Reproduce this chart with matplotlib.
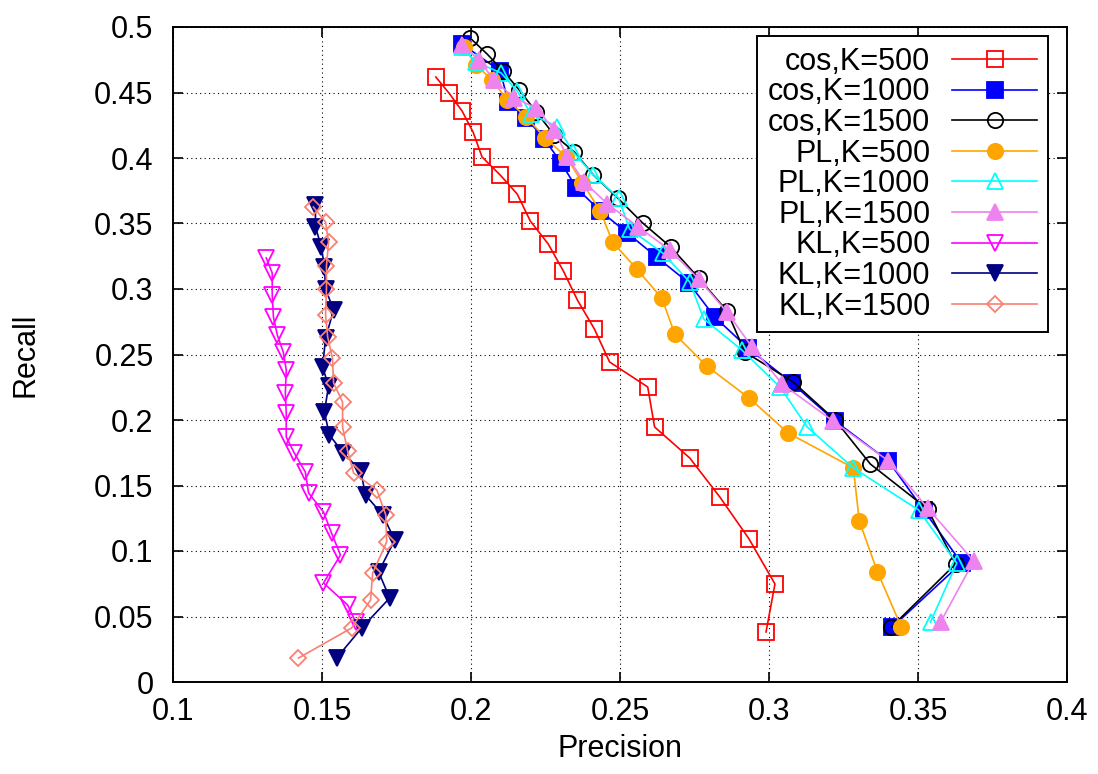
import numpy as np
import matplotlib
matplotlib.use("Agg")
import matplotlib.pyplot as plt

plt.rcParams['font.family'] = ['Liberation Sans', 'DejaVu Sans']

# precision / recall values
cos500_p = [0.1882, 0.1926, 0.1970, 0.2007, 0.2037, 0.2098, 0.2155, 0.2199, 0.2259, 0.2310,
            0.2357, 0.2414, 0.2465, 0.2593, 0.2616, 0.2734, 0.2835, 0.2933, 0.3020, 0.2990]
cos500_r = [0.4618, 0.4496, 0.4359, 0.4198, 0.4008, 0.3870, 0.3725, 0.3519, 0.3344, 0.3137,
            0.2916, 0.2695, 0.2443, 0.2252, 0.1947, 0.1710, 0.1412, 0.1092, 0.0748, 0.0382]

cos1000_p = [0.1970, 0.2098, 0.2125, 0.2185, 0.2246, 0.2303, 0.2354, 0.2434, 0.2525, 0.2623,
             0.2731, 0.2818, 0.2929, 0.3077, 0.3222, 0.3401, 0.3519, 0.3646, 0.3414]
cos1000_r = [0.4870, 0.4664, 0.4427, 0.4305, 0.4145, 0.3962, 0.3771, 0.3595, 0.3427, 0.3244,
             0.3046, 0.2786, 0.2550, 0.2282, 0.1992, 0.1687, 0.1313, 0.0908, 0.0420]

cos1500_p = [0.1997, 0.2054, 0.2108, 0.2162, 0.2219, 0.2279, 0.2347, 0.2411, 0.2492, 0.2576,
             0.2670, 0.2764, 0.2859, 0.2919, 0.3081, 0.3222, 0.3340, 0.3532, 0.3626, 0.3411]
cos1500_r = [0.4916, 0.4794, 0.4664, 0.4519, 0.4351, 0.4176, 0.4046, 0.3870, 0.3695, 0.3504,
             0.3321, 0.3084, 0.2832, 0.2519, 0.2290, 0.2000, 0.1664, 0.1321, 0.0901, 0.0420]

pl500_p = [0.1976, 0.2017, 0.2071, 0.2121, 0.2185, 0.2249, 0.2320, 0.2374, 0.2434, 0.2475,
           0.2556, 0.2640, 0.2684, 0.2791, 0.2933, 0.3064, 0.3283, 0.3303, 0.3364, 0.3444]
pl500_r = [0.4847, 0.4710, 0.4595, 0.4443, 0.4313, 0.4153, 0.4008, 0.3809, 0.3595, 0.3359,
           0.3153, 0.2931, 0.2656, 0.2412, 0.2168, 0.1901, 0.1634, 0.1229, 0.0840, 0.0420]

pl1000_p = [0.1970, 0.2017, 0.2101, 0.2155, 0.2202, 0.2290, 0.2343, 0.2411, 0.2495, 0.2532,
            0.2643, 0.2734, 0.2781, 0.2909, 0.3037, 0.3128, 0.3283, 0.3502, 0.3630, 0.3542]
pl1000_r = [0.4847, 0.4733, 0.4649, 0.4511, 0.4336, 0.4237, 0.4046, 0.3870, 0.3695, 0.3458,
            0.3275, 0.3053, 0.2771, 0.2534, 0.2252, 0.1947, 0.1634, 0.1313, 0.0908, 0.0458]

pl1500_p = [0.1970, 0.2027, 0.2077, 0.2145, 0.2219, 0.2279, 0.2323, 0.2380, 0.2458, 0.2562,
            0.2667, 0.2764, 0.2859, 0.2943, 0.3044, 0.3215, 0.3401, 0.3532, 0.3687, 0.3576]
pl1500_r = [0.4863, 0.4748, 0.4595, 0.4458, 0.4382, 0.4214, 0.4008, 0.3817, 0.3649, 0.3473,
            0.3298, 0.3076, 0.2824, 0.2557, 0.2275, 0.1992, 0.1687, 0.1328, 0.0924, 0.0458]

kl500_p = [0.1313, 0.1333, 0.1333, 0.1337, 0.1350, 0.1370, 0.1380, 0.1377, 0.1380, 0.1380,
           0.1407, 0.1444, 0.1455, 0.1505, 0.1532, 0.1562, 0.1505, 0.1586, 0.1613]
kl500_r = [0.3237, 0.3122, 0.2954, 0.2786, 0.2649, 0.2519, 0.2382, 0.2206, 0.2053, 0.1870,
           0.1748, 0.1603, 0.1443, 0.1298, 0.1137, 0.0969, 0.0756, 0.0588, 0.0458]

kl1000_p = [0.1478, 0.1478, 0.1498, 0.1508, 0.1512, 0.1539, 0.1512, 0.1502, 0.1522, 0.1508,
            0.1525, 0.1572, 0.1630, 0.1646, 0.1704, 0.1744, 0.1690, 0.1727, 0.1633, 0.1549]
kl1000_r = [0.3641, 0.3473, 0.3321, 0.3168, 0.3000, 0.2840, 0.2626, 0.2405, 0.2260, 0.2061,
            0.1885, 0.1748, 0.1611, 0.1427, 0.1275, 0.1084, 0.0840, 0.0641, 0.0412, 0.0183]

kl1500_p = [0.1471, 0.1512, 0.1522, 0.1515, 0.1515, 0.1512, 0.1519, 0.1535, 0.1539, 0.1569,
            0.1569, 0.1586, 0.1606, 0.1684, 0.1714, 0.1717, 0.1670, 0.1663, 0.1599, 0.1421]
kl1500_r = [0.3626, 0.3511, 0.3359, 0.3176, 0.3000, 0.2802, 0.2634, 0.2473, 0.2282, 0.2137,
            0.1947, 0.1763, 0.1595, 0.1466, 0.1275, 0.1069, 0.0832, 0.0626, 0.0412, 0.0183]

series = [
    ("cos,K=500", cos500_p, cos500_r, "#ff0000", "s", False),
    ("cos,K=1000", cos1000_p, cos1000_r, "#0000ff", "s", True),
    ("cos,K=1500", cos1500_p, cos1500_r, "#000000", "o", False),
    ("PL,K=500", pl500_p, pl500_r, "#ffa500", "o", True),
    ("PL,K=1000", pl1000_p, pl1000_r, "#00ffff", "^", False),
    ("PL,K=1500", pl1500_p, pl1500_r, "#ee82ee", "^", True),
    ("KL,K=500", kl500_p, kl500_r, "#ff00ff", "v", False),
    ("KL,K=1000", kl1000_p, kl1000_r, "#000080", "v", True),
    ("KL,K=1500", kl1500_p, kl1500_r, "#fa8072", "D", False),
]

FS = 22

fig = plt.figure(figsize=(10.98, 7.74), dpi=100)
ax = fig.add_axes([173 / 1098, (774 - 682) / 774, 894 / 1098, 655 / 774])

for label, p, r, color, marker, filled in series:
    ms = 8.5 if marker == "D" else 11
    ax.plot(p, r, color=color, lw=1.2, marker=marker, markersize=ms,
            markerfacecolor=color if filled else "none",
            markeredgecolor=color, markeredgewidth=1.3, label=label)

ax.set_xlim(0.1, 0.4)
ax.set_ylim(0, 0.5)
ax.set_xticks(np.arange(0.1, 0.401, 0.05))
ax.set_yticks(np.arange(0, 0.501, 0.05))
ax.set_xticklabels(["0.1", "0.15", "0.2", "0.25", "0.3", "0.35", "0.4"])
ax.set_yticklabels(["0", "0.05", "0.1", "0.15", "0.2", "0.25", "0.3", "0.35", "0.4", "0.45", "0.5"])

ax.grid(True, color="black", linestyle=(0, (1, 3)), linewidth=0.8)
ax.tick_params(direction="in", length=7, width=1.2, top=True, right=True, labelsize=FS)
ax.tick_params(axis="x", pad=11)
ax.tick_params(axis="y", pad=14)
for s in ax.spines.values():
    s.set_linewidth(1.4)

ax.set_xlabel("Precision", fontsize=FS)
ax.set_ylabel("Recall", fontsize=FS)
ax.xaxis.set_label_coords(0.5, -0.08)
ax.yaxis.set_label_coords(-0.148, 0.5)

leg = ax.legend(loc="upper right", bbox_to_anchor=(1 - 19 / 894, 1 - 9 / 655),
                markerfirst=False, fontsize=FS, frameon=True, fancybox=False,
                framealpha=1, edgecolor="black", handlelength=2.8, handletextpad=0.7,
                labelspacing=0.02, borderpad=0.35, borderaxespad=0)
leg.get_frame().set_linewidth(1.4)

fig.savefig("out.png", dpi=100)
